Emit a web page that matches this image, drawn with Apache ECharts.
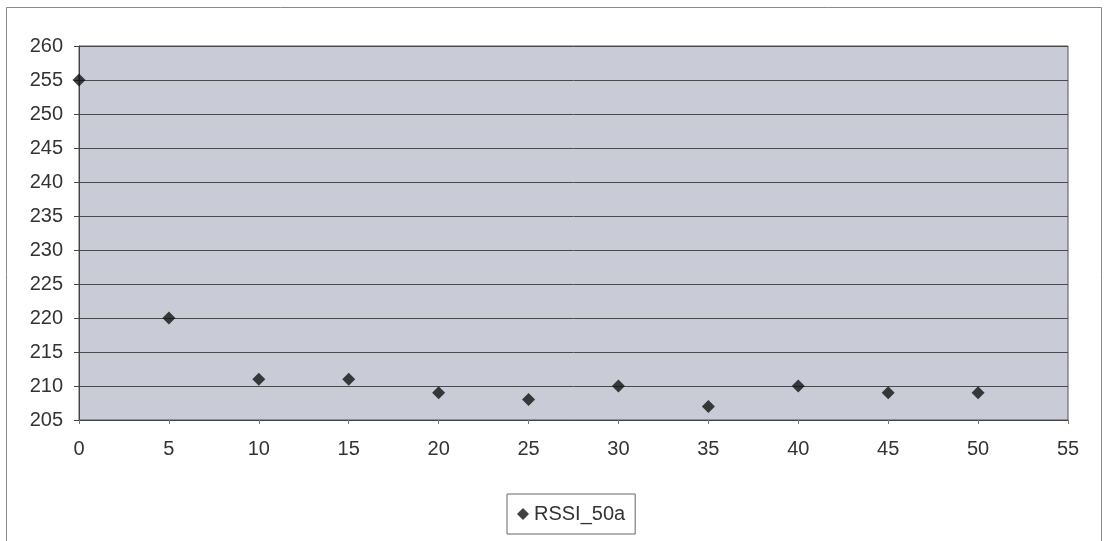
<!DOCTYPE html>
<html>
<head>
<meta charset="utf-8">
<script src="https://cdn.jsdelivr.net/npm/echarts@6/dist/echarts.min.js"></script>
<style>
  html, body { margin: 0; padding: 0; background: #ffffff; }
  #chart { width: 1106px; height: 541px; }
</style>
</head>
<body>
<div id="chart"></div>
<script>
// RSSI readings against distance
const seriesName = 'RSSI_50a';
const distances = [0, 5, 10, 15, 20, 25, 30, 35, 40, 45, 50];
const rssiValues = [255, 220, 211, 211, 209, 208, 210, 207, 210, 209, 209];

const xMin = 0, xMax = 55, xStep = 5;
const yMin = 205, yMax = 260, yStep = 5;

const points = distances.map((d, i) => [d, rssiValues[i]]);

const chart = echarts.init(document.getElementById('chart'), null, { renderer: 'canvas' });
const labelFont = { fontFamily: 'Liberation Sans, Arial, sans-serif', fontSize: 20, color: '#333333' };

chart.setOption({
  backgroundColor: '#ffffff',
  animation: false,
  graphic: [{
    type: 'rect',
    shape: { x: 6.5, y: 7.5, width: 1095, height: 540 },
    style: { fill: 'none', stroke: '#8a8a8a', lineWidth: 1 },
    silent: true,
    z: -1
  }],
  grid: {
    left: 79, right: 38, top: 46, bottom: 121,
    show: true,
    backgroundColor: '#c9ccd7',
    borderColor: '#555555',
    borderWidth: 1
  },
  legend: {
    data: [{ name: seriesName, icon: 'diamond' }],
    left: 507, top: 494,
    padding: [10, 10, 10, 10],
    itemWidth: 12, itemHeight: 12,
    itemGap: 6,
    borderColor: '#666666', borderWidth: 1,
    textStyle: labelFont
  },
  xAxis: {
    type: 'value',
    min: xMin, max: xMax, interval: xStep,
    axisLine: { show: true, lineStyle: { color: '#444444' } },
    axisTick: { show: true, inside: false, length: 4, lineStyle: { color: '#777777' } },
    axisLabel: Object.assign({ margin: 19 }, labelFont),
    splitLine: { show: false }
  },
  yAxis: {
    type: 'value',
    min: yMin, max: yMax, interval: yStep,
    axisLine: { show: true, lineStyle: { color: '#444444' } },
    axisTick: { show: true, inside: false, length: 5, lineStyle: { color: '#444444' } },
    axisLabel: Object.assign({ margin: 16 }, labelFont),
    splitLine: { show: true, lineStyle: { color: '#4a4a4a', width: 1 } }
  },
  series: [{
    name: seriesName,
    type: 'scatter',
    data: points,
    symbol: 'diamond',
    symbolSize: 13,
    clip: false,
    itemStyle: { color: '#111111' }
  }]
});
</script>
</body>
</html>
